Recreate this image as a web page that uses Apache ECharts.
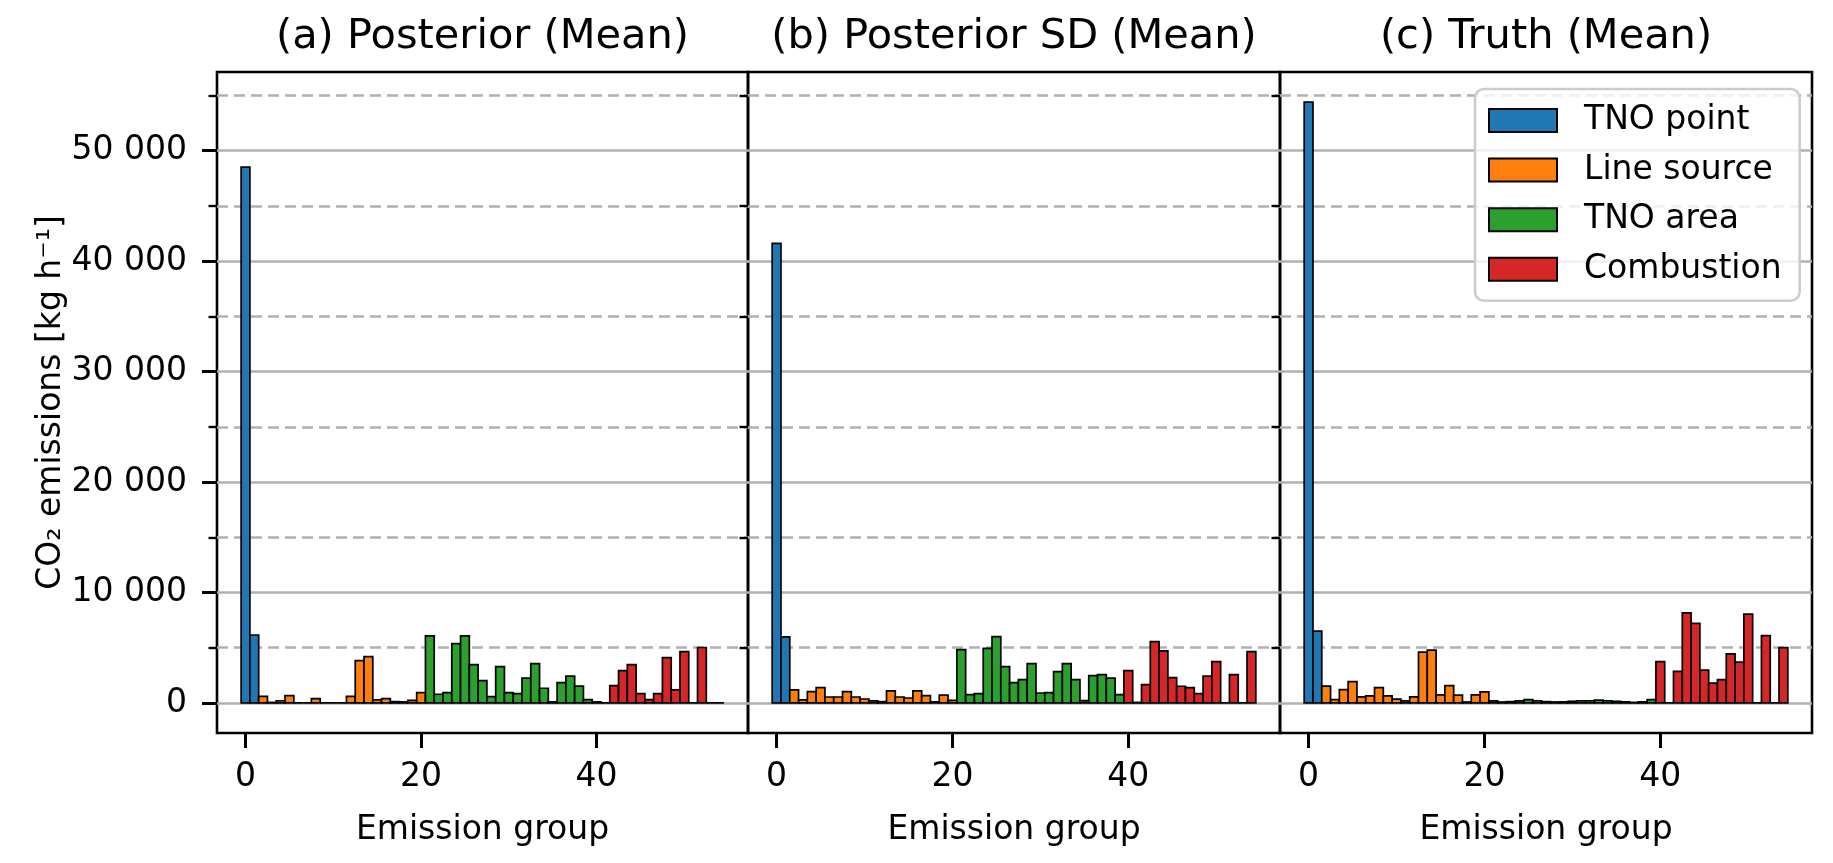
<!DOCTYPE html>
<html><head><meta charset="utf-8">
<script src="https://cdn.jsdelivr.net/npm/echarts@6/dist/echarts.min.js"></script>
<style>html,body{margin:0;padding:0;background:#fff}#c{width:1833px;height:863px}</style>
</head><body><div id="c"></div>
<script>
const panelTitles = ['(a) Posterior (Mean)', '(b) Posterior SD (Mean)', '(c) Truth (Mean)'];
const sourceTypes = ['TNO point', 'Line source', 'TNO area', 'Combustion'];
const typeColors = ['#1f77b4', '#ff7f0e', '#2ca02c', '#d62728'];
const typeCounts = [2, 19, 19, 15];

const posteriorMean = [48500, 6150,
  600, 50, 200, 660, 0, 0, 400, 0, 0, 0, 600, 3840, 4200, 270, 400, 120, 100, 240, 940,
  6070, 790, 940, 5380, 6070, 3470, 2020, 570, 3290, 940, 850, 2240, 3560, 1330, 100, 1840, 2420, 1530, 300,
  100, 0, 1570, 2930, 3470, 850, 300, 850, 4110, 1180, 4650, 0, 5020, 0, 0];
const posteriorSD = [41600, 5980,
  1180, 270, 1030, 1390, 540, 540, 1030, 540, 360, 180, 120, 1090, 540, 450, 1090, 660, 100, 700, 240,
  4830, 760, 850, 4950, 6010, 3290, 1840, 2110, 3560, 900, 940, 2840, 3560, 2110, 210, 2480, 2570, 2240, 760,
  2930, 50, 1660, 5560, 4710, 2300, 1510, 1390, 850, 2420, 3750, 0, 2570, 0, 4650];
const truthMean = [54400, 6500,
  1530, 310, 1200, 1930, 550, 640, 1380, 640, 340, 180, 550, 4600, 4790, 740, 1560, 700, 90, 740, 1010,
  180, 90, 120, 180, 300, 200, 120, 90, 100, 150, 200, 200, 250, 200, 150, 100, 50, 100, 300,
  3750, 0, 2860, 8150, 7200, 2970, 1800, 2120, 4450, 3700, 8050, 0, 6100, 0, 5000];

const yMajorTicks = [0, 10000, 20000, 30000, 40000, 50000];
const yMinorTicks = [5000, 15000, 25000, 35000, 45000, 55000];
const xTicks = [0, 20, 40];

const panelData = [posteriorMean, posteriorSD, truthMean];
const FONT = 'DejaVu Sans';
const grids = [
  {left: 217, top: 72, width: 531, height: 661},
  {left: 748, top: 72, width: 532, height: 661},
  {left: 1280, top: 72, width: 532, height: 661}
];

// type index of each emission group
const groupType = [];
typeCounts.forEach((n, t) => { for (let k = 0; k < n; k++) groupType.push(t); });

function fmt(v) { return String(v).replace(/\B(?=(\d{3})+(?!\d))/g, ' '); }

function renderBar(params, api) {
  const x = api.value(0), y = api.value(1);
  const p0 = api.coord([x - 0.5, y]);
  const p1 = api.coord([x + 0.5, 0]);
  return {
    type: 'rect',
    shape: {x: p0[0], y: p0[1], width: p1[0] - p0[0], height: p1[1] - p0[1]},
    style: {fill: api.visual('color'), stroke: '#000', lineWidth: 1.7}
  };
}

const xAxes = [], yAxes = [], series = [], titles = [];
grids.forEach((g, p) => {
  titles.push({
    text: panelTitles[p], left: g.left + g.width / 2, top: 16, textAlign: 'center', padding: 0,
    textStyle: {fontFamily: FONT, fontSize: 41.5, fontWeight: 'normal', color: '#000'}
  });
  xAxes.push({
    type: 'value', gridIndex: p, min: -3.25, max: 57.25,
    axisLine: {show: false, onZero: false},
    axisTick: {show: true, customValues: xTicks, length: 15, lineStyle: {color: '#000', width: 3}},
    axisLabel: {show: true, customValues: xTicks, margin: 28, fontFamily: FONT, fontSize: 33, color: '#000'},
    splitLine: {show: false},
    name: 'Emission group', nameLocation: 'middle', nameGap: 81,
    nameTextStyle: {fontFamily: FONT, fontSize: 33, color: '#000'}
  });
  const major = {
    type: 'value', gridIndex: p, min: -2720, max: 57120, position: 'left',
    axisLine: {show: false, onZero: false},
    axisTick: {show: p === 0, customValues: yMajorTicks, length: 15, lineStyle: {color: '#000', width: 3}},
    axisLabel: {show: p === 0, customValues: yMajorTicks, margin: 30, formatter: fmt, fontFamily: FONT, fontSize: 33, color: '#000'},
    splitLine: {show: true, lineStyle: {color: '#b0b0b0', width: 2.6, type: 'solid'}}
  };
  if (p === 0) {
    major.name = 'CO\u2082 emissions [kg h\u207B\u00B9]';
    major.nameLocation = 'middle';
    major.nameRotate = 90;
    major.nameGap = 132;
    major.nameTextStyle = {fontFamily: FONT, fontSize: 33, color: '#000'};
  }
  yAxes.push(major);
  yAxes.push({
    type: 'value', gridIndex: p, min: -2720, max: 57120, position: 'left', offset: 0,
    axisLine: {show: false, onZero: false},
    axisTick: {show: true, customValues: yMinorTicks, length: 8.5, lineStyle: {color: '#000', width: 2.4}},
    axisLabel: {show: false, customValues: yMinorTicks},
    splitLine: {show: true, lineStyle: {color: '#b0b0b0', width: 2.6, type: [11, 6]}}
  });
  sourceTypes.forEach((name, t) => {
    const data = [];
    panelData[p].forEach((v, i) => { if (groupType[i] === t) data.push([i, v]); });
    series.push({
      type: 'custom', name: name, xAxisIndex: p, yAxisIndex: 2 * p,
      itemStyle: {color: typeColors[t]},
      renderItem: renderBar, data: data, clip: false, z: 3
    });
  });
});

const chart = echarts.init(document.getElementById('c'), null, {renderer: 'canvas'});
chart.setOption({
  backgroundColor: '#fff',
  animation: false,
  title: titles,
  grid: grids.map(g => Object.assign({show: true, borderColor: '#000', borderWidth: 2.6, backgroundColor: 'transparent', containLabel: false, outerBoundsMode: 'none'}, g)),
  xAxis: xAxes,
  yAxis: yAxes,
  legend: {
    data: sourceTypes, orient: 'vertical', left: 1475, top: 89,
    icon: 'rect', itemWidth: 68, itemHeight: 23, itemGap: 16.6,
    padding: [15, 18, 15, 13],
    backgroundColor: 'rgba(255,255,255,0.8)', borderColor: '#cccccc', borderWidth: 2.6, borderRadius: 9,
    itemStyle: {borderColor: '#000', borderWidth: 2},
    textStyle: {fontFamily: FONT, fontSize: 33, color: '#000', lineHeight: 23, padding: [0, 0, 0, 22]},
    z: 10
  },
  series: series
});
</script></body></html>
